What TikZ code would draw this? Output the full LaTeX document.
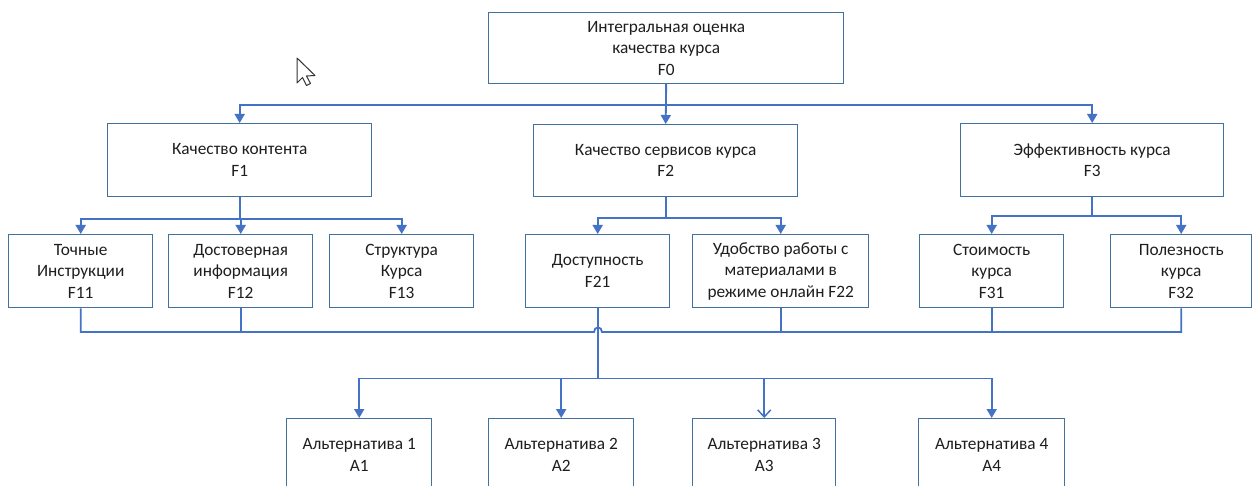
\documentclass[tikz,border=0pt]{standalone}
\usepackage{fontspec}
\setmainfont{Carlito}
\usetikzlibrary{arrows.meta}
\definecolor{boxline}{RGB}{65,113,156}
\definecolor{connline}{RGB}{68,114,196}
\definecolor{txt}{RGB}{30,30,30}
\tikzset{
  box/.style={draw=boxline, line width=1.4pt, fill=white, anchor=north west,
    inner sep=0pt, align=center, text=txt, font=\fontsize{17.3}{21.5}\selectfont},
  conn/.style={draw=connline, line width=1.8pt},
  arr/.style={conn, -{Triangle[width=10pt,length=9pt]}},
  openarr/.style={conn, -{Straight Barb[width=13pt,length=7pt,line width=1.5pt]}}
}
\begin{document}
\begin{tikzpicture}[x=1pt,y=-1pt]
\useasboundingbox (0,0) rectangle (1260,486);
\fill[white] (0,0) rectangle (1260,486);
\clip (0,0) rectangle (1260,486);

% top level
\node[box, minimum width=355pt, minimum height=71pt] (F0) at (488,12)
  {Интегральная оценка\\качества курса\\F0};

% criteria
\node[box, minimum width=264pt, minimum height=73pt] (F1) at (107,123)
  {Качество контента\\F1};
\node[box, minimum width=264pt, minimum height=72pt] (F2) at (533,124)
  {Качество сервисов курса\\F2};
\node[box, minimum width=263pt, minimum height=73pt] (F3) at (960,123)
  {Эффективность курса\\F3};

% sub-criteria
\node[box, minimum width=144pt, minimum height=73pt] (F11) at (8,234)
  {Точные\\Инструкции\\F11};
\node[box, minimum width=144pt, minimum height=73pt] (F12) at (168,234)
  {Достоверная\\информация\\F12};
\node[box, minimum width=144pt, minimum height=73pt] (F13) at (329,234)
  {Структура\\Курса\\F13};
\node[box, minimum width=144pt, minimum height=73pt] (F21) at (525,234)
  {Доступность\\F21};
\node[box, minimum width=176pt, minimum height=73pt] (F22) at (692,234)
  {Удобство работы с\\материалами в\\режиме онлайн F22};
\node[box, minimum width=144pt, minimum height=73pt] (F31) at (919,234)
  {Стоимость\\курса\\F31};
\node[box, minimum width=141pt, minimum height=73pt] (F32) at (1110,234)
  {Полезность\\курса\\F32};

% alternatives
\node[box, minimum width=145pt, minimum height=72pt] (A1) at (286,418)
  {Альтернатива 1\\A1};
\node[box, minimum width=145pt, minimum height=72pt] (A2) at (488,418)
  {Альтернатива 2\\A2};
\node[box, minimum width=143pt, minimum height=72pt] (A3) at (692,418)
  {Альтернатива 3\\A3};
\node[box, minimum width=146pt, minimum height=72pt] (A4) at (918,418)
  {Альтернатива 4\\A4};

% F0 -> criteria
\draw[arr] (F0.south) -- ++(0,21) -| (F1.north);
\draw[arr] (F0.south) -- (F2.north);
\draw[arr] (F0.south) -- ++(0,21) -| (F3.north);

% criteria -> sub-criteria
\draw[arr] (F1.south) -- ++(0,22) -| (F11.north);
\draw[arr] (F1.south) -- ++(0,22) -| (F12.north);
\draw[arr] (F1.south) -- ++(0,22) -| (F13.north);
\draw[arr] (F2.south) -- ++(0,21) -| (F21.north);
\draw[arr] (F2.south) -- ++(0,21) -| (F22.north);
\draw[arr] (F3.south) -- ++(0,19) -| (F31.north);
\draw[arr] (F3.south) -- ++(0,19) -| (F32.north);

% collecting line with a jump over the F21 riser
\coordinate (hopL) at (594,332);
\coordinate (hopR) at (602,332);
\draw[conn] (F11.south) |- (hopL) .. controls +(0,-6) and +(0,-6) .. (hopR) -| (F32.south);
\draw[conn] (F12.south) -- (F12.south |- hopL);
\draw[conn] (F22.south) -- (F22.south |- hopL);
\draw[conn] (F31.south) -- (F31.south |- hopL);

% F21 -> alternatives
\draw[arr] (F21.south) -- ++(0,70) -| (A1.north);
\draw[arr] (F21.south) -- ++(0,70) -| (A2.north);
\draw[openarr] (F21.south) -- ++(0,70) -| (A3.north);
\draw[arr] (F21.south) -- ++(0,70) -| (A4.north);

% mouse pointer
\draw[draw=black!80, line width=1pt, fill=white, line join=round]
  (297,58) -- (297,83) -- (302.5,77.5) -- (306.5,85.5) -- (310.5,83.5)
  -- (306.5,76) -- (315,75.5) -- cycle;
\end{tikzpicture}
\end{document}
